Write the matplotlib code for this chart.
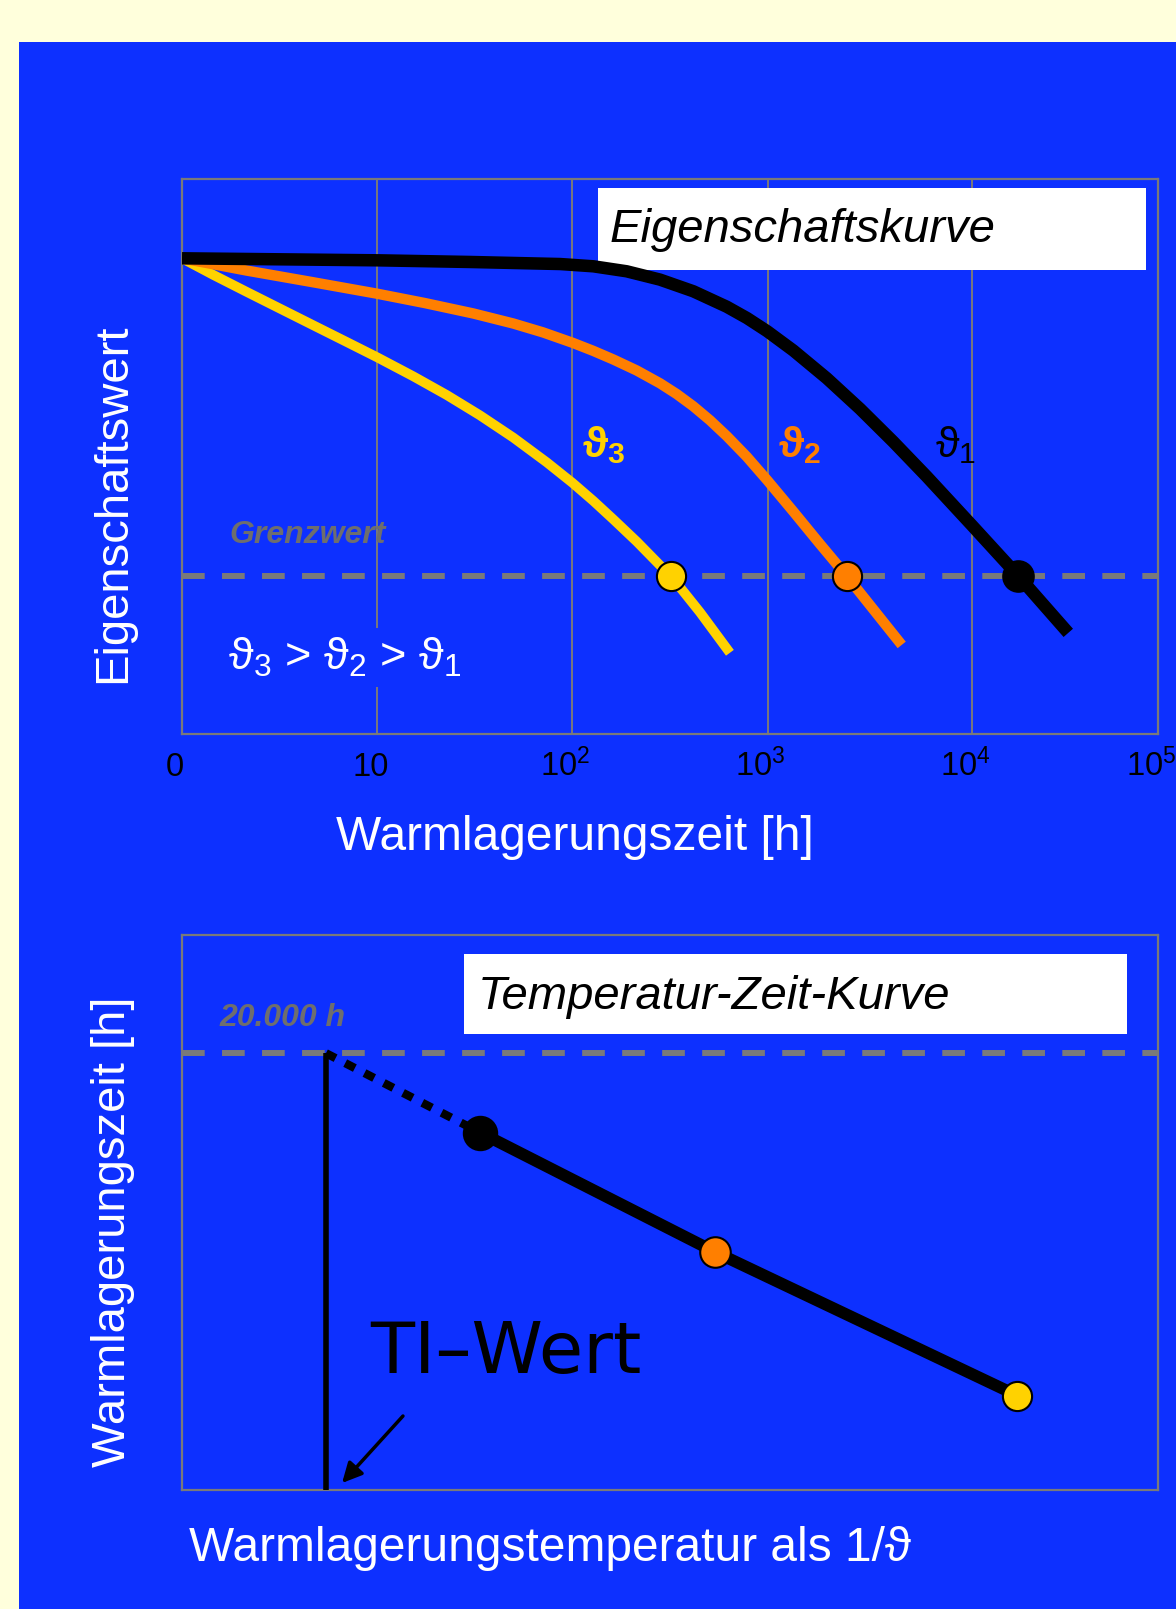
import numpy as np
import matplotlib
matplotlib.use("Agg")
import matplotlib.pyplot as plt
import matplotlib.transforms as mtransforms
from matplotlib.patches import Rectangle

plt.rcParams['font.family'] = ['Liberation Sans', 'DejaVu Sans']
plt.rcParams['mathtext.fontset'] = 'custom'
plt.rcParams['mathtext.rm'] = 'Liberation Sans'
plt.rcParams['mathtext.it'] = 'Liberation Sans:italic'
plt.rcParams['mathtext.bf'] = 'Liberation Sans:bold'
plt.rcParams['mathtext.default'] = 'regular'

# ---------------- data ----------------
# top chart: property value (arbitrary units 0..100) vs storage time [h]
tick_hours = [1, 10, 100, 1000, 10000, 100000]
tick_labels = ['0', '10', '$10^2$', '$10^3$', '$10^4$', '$10^5$']

theta1_t = [1, 10, 29.9, 86.4, 128, 189.7, 281, 416.3, 617.3, 784.5, 996.5, 1336, 1946,
            2833, 4122, 6004, 10090, 17740, 32940]
theta1_y = [85.71, 85.35, 85.05, 84.68, 84.27, 83.37, 81.87, 79.77, 76.99, 74.94, 72.56,
            69.10, 64.11, 58.59, 52.65, 46.40, 37.44, 28.47, 18.22]

theta2_t = [1, 2.145, 4.707, 10, 17.58, 31.07, 49.8, 70.7, 100, 127.5, 162, 213.5, 281,
            342.1, 416.3, 507, 617.3, 781.6, 996.5, 1336, 1805, 2438, 4531]
theta2_y = [85.71, 83.50, 81.39, 79.33, 77.64, 75.77, 73.96, 72.36, 70.50, 69.05, 67.48,
            65.50, 63.19, 61.26, 59.05, 56.52, 53.69, 49.98, 45.71, 40.09, 34.22, 28.47, 16.05]

theta3_t = [1, 1.446, 2.145, 3.177, 4.707, 6.98, 10, 15.3, 22.7, 33.6, 49.8, 73.9, 100,
            128, 162, 213.5, 281, 320, 450.6, 641]
theta3_y = [85.71, 82.72, 79.66, 76.65, 73.64, 70.63, 67.87, 64.45, 61.08, 57.42, 53.41,
            48.95, 45.26, 42.00, 38.68, 34.68, 30.40, 28.47, 21.93, 14.63]

limit_value = 28.47
end_times = [17740, 2438, 320]          # theta1, theta2, theta3 at the limit value

# bottom chart: arbitrary units (x = 1/theta, y = storage time)
ti_x = 14.75
limit_20000 = 78.7
tz_x = [30.55, 54.6, 85.6]              # theta1, theta2, theta3
tz_y = [64.4, 42.9, 17.0]

# ---------------- styling ----------------
W, H = 1176, 1609
BLUE = '#0D30FF'
CREAM = '#FFFFDC'
GRAY = '#7A7A7A'
YELLOW = '#FFD200'
ORANGE = '#FF7F00'

fig = plt.figure(figsize=(W / 100, H / 100), dpi=100, facecolor=CREAM)
fig.add_artist(Rectangle((19 / W, 0), 1 - 19 / W, 1 - 42 / H, transform=fig.transFigure,
                         facecolor=BLUE, edgecolor='none', zorder=-5))

LOG_KNOTS = [0, 1, 2, 3, 4, 5]
POS_KNOTS = [0, 1, 2, 3, 4.047, 5]


def fwd(t):
    t = np.asarray(t, dtype=float)
    lt = np.log10(np.where(t > 0, t, 1e-300))
    return np.interp(lt, LOG_KNOTS, POS_KNOTS)


def inv(p):
    return 10.0 ** np.interp(np.asarray(p, dtype=float), POS_KNOTS, LOG_KNOTS)


# ---------------- top chart ----------------
ax1 = fig.add_axes([182 / W, 1 - 734 / H, 976 / W, 555 / H])
ax1.set_facecolor('none')
ax1.set_xscale('function', functions=(fwd, inv))
ax1.set_xlim(1, 100000)
ax1.set_ylim(0, 100)
ax1.set_xticks(tick_hours)
ax1.set_xticklabels([''] * len(tick_hours))
ax1.xaxis.set_minor_locator(matplotlib.ticker.NullLocator())
ax1.set_yticks([])
ax1.tick_params(axis='x', length=0)
ax1.grid(axis='x', color=GRAY, lw=1.4)
for s in ax1.spines.values():
    s.set_color(GRAY)
    s.set_linewidth(1.6)

trans_lbl = mtransforms.offset_copy(ax1.get_xaxis_transform(), fig=fig, x=-7, y=0, units='dots')
for t, lab in zip(tick_hours, tick_labels):
    ax1.text(t, -42 / 555, lab, transform=trans_lbl, ha='center', va='baseline',
             fontsize=23.5, color='black', clip_on=False)

ax1.axhline(limit_value, color=GRAY, lw=4.3, dashes=(3.8, 2.9), zorder=2)

line_kw = dict(solid_capstyle='butt', solid_joinstyle='round')
ax1.plot(theta3_t, theta3_y, color=YELLOW, lw=7, zorder=3, **line_kw)
ax1.plot(theta2_t, theta2_y, color=ORANGE, lw=7.5, zorder=3.1, **line_kw)
ax1.plot(theta1_t, theta1_y, color='black', lw=9, zorder=3.2, **line_kw)

ax1.plot([end_times[2]], [limit_value], 'o', ms=21, mfc=YELLOW, mec='black', mew=1.5, zorder=4)
ax1.plot([end_times[1]], [limit_value], 'o', ms=21, mfc=ORANGE, mec='black', mew=1.5, zorder=4)
ax1.plot([end_times[0]], [limit_value], 'o', ms=22, mfc='black', mec='black', mew=1.5, zorder=4)

ax1.add_patch(Rectangle((0.4262, 0.836), 0.5615, 0.1477, transform=ax1.transAxes,
                        facecolor='white', edgecolor='none', zorder=2.5))
ax1.text(0.4385, 0.887, 'Eigenschaftskurve', transform=ax1.transAxes, fontsize=34,
         style='italic', color='black', va='baseline', ha='left', zorder=5)

ax1.text(0.0482, 0.344, 'Grenzwert', transform=ax1.transAxes, fontsize=23, style='italic',
         fontweight='bold', color='#6E6E6E', va='baseline', ha='left', zorder=5)

ax1.text(0.41, 0.499, 'ϑ$_\\mathbf{3}$', transform=ax1.transAxes, fontsize=31, fontweight='bold',
         color=YELLOW, va='baseline', ha='left', zorder=5)
ax1.text(0.6107, 0.499, 'ϑ$_\\mathbf{2}$', transform=ax1.transAxes, fontsize=31, fontweight='bold',
         color=ORANGE, va='baseline', ha='left', zorder=5)
ax1.text(0.772, 0.499, 'ϑ$_1$', transform=ax1.transAxes, fontsize=31,
         color='black', va='baseline', ha='left', zorder=5)

ax1.text(0.0471, 0.1153, 'ϑ$_3$ > ϑ$_2$ > ϑ$_1$', transform=ax1.transAxes, fontsize=32.5,
         color='white', va='baseline', ha='left', zorder=5,
         bbox=dict(facecolor=BLUE, edgecolor='none', pad=6))

# ---------------- bottom chart ----------------
ax2 = fig.add_axes([182 / W, 1 - 1490 / H, 976 / W, 555 / H])
ax2.set_facecolor('none')
ax2.set_xlim(0, 100)
ax2.set_ylim(0, 100)
ax2.set_xticks([])
ax2.set_yticks([])
for s in ax2.spines.values():
    s.set_color(GRAY)
    s.set_linewidth(1.6)

ax2.axhline(limit_20000, color=GRAY, lw=4.3, dashes=(3.8, 2.9), zorder=2)
ax2.plot([ti_x, ti_x], [0, limit_20000], color='black', lw=4, solid_capstyle='butt', zorder=3)
ax2.plot([ti_x, tz_x[0]], [limit_20000, tz_y[0]], color='black', lw=6,
         dashes=(1.3, 1.3), zorder=3)
ax2.plot(tz_x, tz_y, color='black', lw=8.5, solid_capstyle='butt', zorder=3)
ax2.plot([tz_x[0]], [tz_y[0]], 'o', ms=24, mfc='black', mec='black', mew=1.5, zorder=4)
ax2.plot([tz_x[1]], [tz_y[1]], 'o', ms=22, mfc=ORANGE, mec='black', mew=1.5, zorder=4)
ax2.plot([tz_x[2]], [tz_y[2]], 'o', ms=21, mfc=YELLOW, mec='black', mew=1.5, zorder=4)

ax2.add_patch(Rectangle((0.2887, 0.8223), 0.6795, 0.1434, transform=ax2.transAxes,
                        facecolor='white', edgecolor='none', zorder=2.5))
ax2.text(0.3033, 0.8674, 'Temperatur-Zeit-Kurve', transform=ax2.transAxes, fontsize=34,
         style='italic', color='black', va='baseline', ha='left', zorder=5)
ax2.text(0.0389, 0.836, '20.000 h', transform=ax2.transAxes, fontsize=23, style='italic',
         fontweight='bold', color='#6E6E6E', va='baseline', ha='left', zorder=5)
ax2.text(0.193, 0.2108, 'TI–Wert', transform=ax2.transAxes, fontsize=52,
         family='DejaVu Sans', color='black', va='baseline', ha='left', zorder=5)
ax2.annotate('', xy=(0.164, 0.0126), xycoords='axes fraction',
             xytext=(0.2264, 0.1333), textcoords='axes fraction',
             arrowprops=dict(arrowstyle='-|>,head_length=0.6,head_width=0.3', lw=2.5,
                             color='black', mutation_scale=20, shrinkA=0, shrinkB=0),
             zorder=5)

# ---------------- axis labels ----------------
fig.text(125 / W, 1 - 503 / H, 'Eigenschaftswert', rotation=90, rotation_mode='anchor',
         ha='center', va='baseline', fontsize=34, color='white')
fig.text(125 / W, 1 - 1232 / H, 'Warmlagerungszeit [h]', rotation=90, rotation_mode='anchor',
         ha='center', va='baseline', fontsize=34, color='white')
fig.text(336.5 / W, 1 - 850 / H, 'Warmlagerungszeit [h]', ha='left', va='baseline',
         fontsize=34.5, color='white')
fig.text(189 / W, 1 - 1561 / H, 'Warmlagerungstemperatur als 1/ϑ', ha='left', va='baseline',
         fontsize=34.5, color='white')

fig.savefig('out.png', dpi=100, facecolor=fig.get_facecolor())
